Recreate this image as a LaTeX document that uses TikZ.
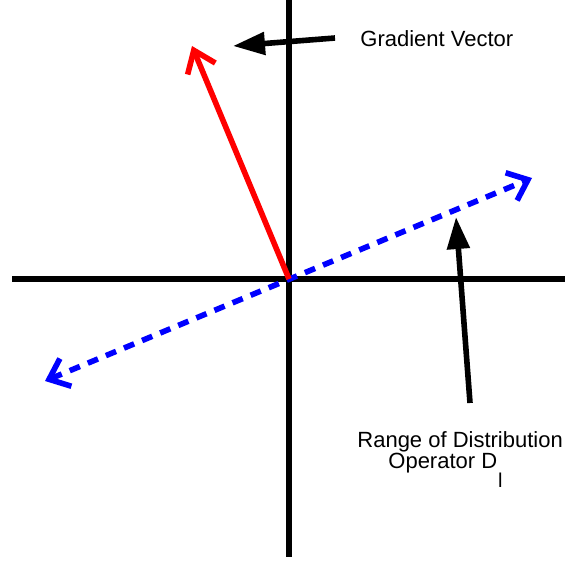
\documentclass[tikz,border=0pt]{standalone}
\usepackage{fontspec}
\setmainfont{Liberation Sans}
\usetikzlibrary{arrows.meta}
\begin{document}
\begin{tikzpicture}[x=0.5pt,y=-0.5pt,
  axis/.style={line width=2.8pt},
  gradvec/.style={line width=2.8pt,red,-{Straight Barb[length=10pt,width=15pt,line width=2.8pt]}},
  rangevec/.style={line width=2.8pt,blue,dash pattern=on 5.5pt off 4.3pt,
     {Straight Barb[length=9pt,width=15pt,line width=2.8pt]}-{Straight Barb[length=9pt,width=15pt,line width=2.8pt]}},
  pointer/.style={line width=2.8pt,-{Triangle[length=16pt,width=11pt]}},
  lbl/.style={font=\fontsize{11}{13}\selectfont,inner sep=0pt}]
\useasboundingbox (0,0) rectangle (565,561);
% axes
\coordinate (vtop) at (289,0);
\coordinate (vbot) at (289,557);
\coordinate (hleft) at (12,279);
\coordinate (hright) at (565,279);
\coordinate (o) at (289,279);
\draw[axis] (vtop) -- (vbot);
\draw[axis] (hleft) -- (hright);
% vectors
\coordinate (gtip) at (192,46);
\coordinate (rA) at (45,381);
\coordinate (rB) at (532,178);
\draw[rangevec] (rA) -- (rB);
\draw[gradvec] (o) -- (gtip);
% labels
\node[lbl,anchor=base west] (gl) at (360,47) {Gradient Vector};
\node[lbl,anchor=base west] (rl1) at (357,447) {Range of Distribution};
\node[lbl,anchor=base west] (rl2) at (388,468) {Operator D\kern0.5pt\raisebox{-9.5pt}{\fontsize{10}{10}\selectfont l}};
% pointers
\coordinate (p1s) at (335,38);
\coordinate (p1e) at (233,46);
\coordinate (p2s) at (470,403);
\coordinate (p2e) at (456,217);
\draw[pointer] (p1s) -- (p1e);
\draw[pointer] (p2s) -- (p2e);
\end{tikzpicture}
\end{document}
